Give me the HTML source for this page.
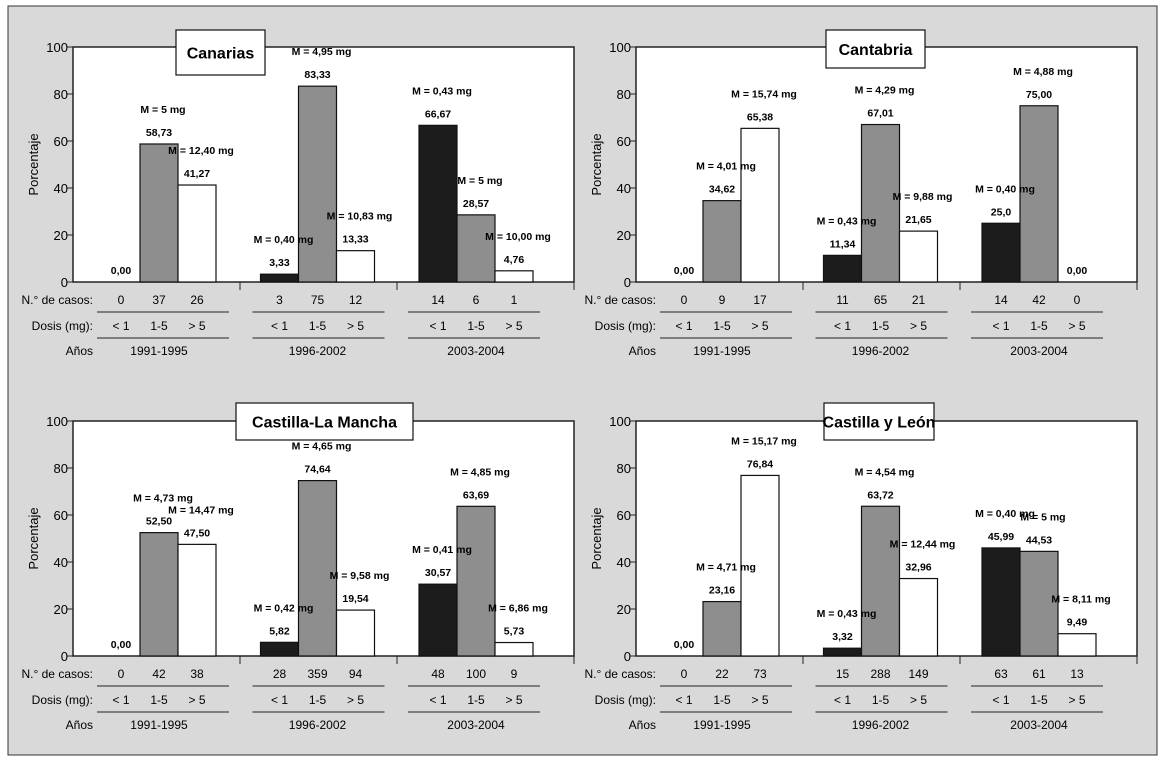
<!DOCTYPE html>
<html><head><meta charset="utf-8"><style>
body{margin:0;background:#fff}
svg{display:block;font-family:"Liberation Sans",sans-serif}
.b{font-weight:bold;font-size:10.5px}
.t{font-size:12px}
</style></head><body>
<svg id="s" width="1167" height="759" viewBox="0 0 1167 759">
<rect x="8" y="6" width="1149" height="749" fill="#d9d9d9" stroke="#333" stroke-width="1"/>
</svg>
<script>
const titles=["Canarias","Cantabria","Castilla-La Mancha","Castilla y León"];
const values=[[0,58.73,41.27,3.33,83.33,13.33,66.67,28.57,4.76],
[0,34.62,65.38,11.34,67.01,21.65,25.0,75.00,0],
[0,52.50,47.50,5.82,74.64,19.54,30.57,63.69,5.73],
[0,23.16,76.84,3.32,63.72,32.96,45.99,44.53,9.49]];
const valueLabels=[["0,00","58,73","41,27","3,33","83,33","13,33","66,67","28,57","4,76"],
["0,00","34,62","65,38","11,34","67,01","21,65","25,0","75,00","0,00"],
["0,00","52,50","47,50","5,82","74,64","19,54","30,57","63,69","5,73"],
["0,00","23,16","76,84","3,32","63,72","32,96","45,99","44,53","9,49"]];
const means=[["","M = 5 mg","M = 12,40 mg","M = 0,40 mg","M = 4,95 mg","M = 10,83 mg","M = 0,43 mg","M = 5 mg","M = 10,00 mg"],
["","M = 4,01 mg","M = 15,74 mg","M = 0,43 mg","M = 4,29 mg","M = 9,88 mg","M = 0,40 mg","M = 4,88 mg",""],
["","M = 4,73 mg","M = 14,47 mg","M =  0,42 mg","M = 4,65 mg","M = 9,58 mg","M = 0,41 mg","M = 4,85 mg","M = 6,86 mg"],
["","M = 4,71 mg","M = 15,17 mg","M = 0,43 mg","M = 4,54 mg","M = 12,44 mg","M = 0,40 mg","M = 5 mg","M = 8,11 mg"]];
const cases=[["0","37","26","3","75","12","14","6","1"],
["0","9","17","11","65","21","14","42","0"],
["0","42","38","28","359","94","48","100","9"],
["0","22","73","15","288","149","63","61","13"]];
const doses=["< 1","1-5","> 5"];
const years=["1991-1995","1996-2002","2003-2004"];
const yTicks=[0,20,40,60,80,100];
const fills=["#1c1c1c","#8e8e8e","#ffffff"];
const panelX=[73,636,73,636], panelY=[282,282,656,656];
const titleBox=[[176,30,89,45],[826,30,99,38],[236,403,177,37],[824,403,110,37]];
const s=document.getElementById('s');
const NS="http://www.w3.org/2000/svg";
function mk(tag,attrs,txt){const e=document.createElementNS(NS,tag);for(const k in attrs)e.setAttribute(k,attrs[k]);if(txt!==undefined)e.textContent=txt;s.appendChild(e);return e;}
for(let p=0;p<4;p++){
  const ox=panelX[p],y0=panelY[p],H=235,W=501;
  const yS=v=>y0-v/100*H;
  const xS=i=>ox+29+Math.floor(i/3)*158.5+(i%3)*38;
  let e=mk('rect',{x:ox,y:y0-H,width:W,height:H,fill:'#fff',stroke:'#222','stroke-width':1.5});
  
  
  yTicks.forEach(t=>{
    e=mk('line',{x1:ox-6,x2:ox,y1:yS(t),y2:yS(t),stroke:'#222'});
    
    
    e=mk('text',{x:ox-5,y:yS(t)+5,'text-anchor':'end','font-size':13},String(t));
    
    
  });
  e=mk('text',{x:0,y:0,transform:`translate(${ox-35},${y0-H/2}) rotate(-90)`,'text-anchor':'middle','font-size':13},'Porcentaje');
  
  
  [167,324,W].forEach(dx=>{
    e=mk('line',{x1:ox+dx,x2:ox+dx,y1:y0,y2:y0+8,stroke:'#222'});
    
    
  });
  for(let i=0;i<9;i++){
    const v=values[p][i],x=xS(i);
    if(v>0){
      e=mk('rect',{x:x,y:yS(v),width:38,height:y0-yS(v),fill:fills[i%3],stroke:'#111','stroke-width':1.2});
      
      
    }
  }
  for(let i=0;i<9;i++){
    const v=values[p][i],cx=xS(i)+19;
    e=mk('text',{x:cx,y:yS(v)-8,'text-anchor':'middle',class:'b'},valueLabels[p][i]);
    
    
    if(means[p][i]){
      e=mk('text',{x:cx+4,y:yS(v)-31,'text-anchor':'middle',class:'b'},means[p][i]);
      
      
    }
    e=mk('text',{x:cx,y:y0+22,'text-anchor':'middle',class:'t'},cases[p][i]);
    
    
    e=mk('text',{x:cx,y:y0+48,'text-anchor':'middle',class:'t'},doses[i%3]);
    
    
  }
  for(let g=0;g<3;g++){
    const l=ox+24+g*155.5,r=l+132;
    [y0+30,y0+56].forEach(yy=>{
      e=mk('line',{x1:l,x2:r,y1:yy,y2:yy,stroke:'#222'});
      
      
    });
    e=mk('text',{x:xS(g*3+1)+19,y:y0+73,'text-anchor':'middle',class:'t'},years[g]);
    
    
  }
  [["N.° de casos:",22],["Dosis (mg):",48],["Años",73]].forEach(([t,dy])=>{
    e=mk('text',{x:ox+20,y:y0+dy,'text-anchor':'end',class:'t'},t);
    
    
  });
  const tb=titleBox[p];
  e=mk('rect',{x:tb[0],y:tb[1],width:tb[2],height:tb[3],fill:'#fff',stroke:'#111','stroke-width':1.2});
  
  
  e=mk('text',{x:tb[0]+tb[2]/2,y:tb[1]+tb[3]/2+6,'text-anchor':'middle','font-size':16,'font-weight':'bold'},titles[p]);
  
  
}
</script>
</body></html>
